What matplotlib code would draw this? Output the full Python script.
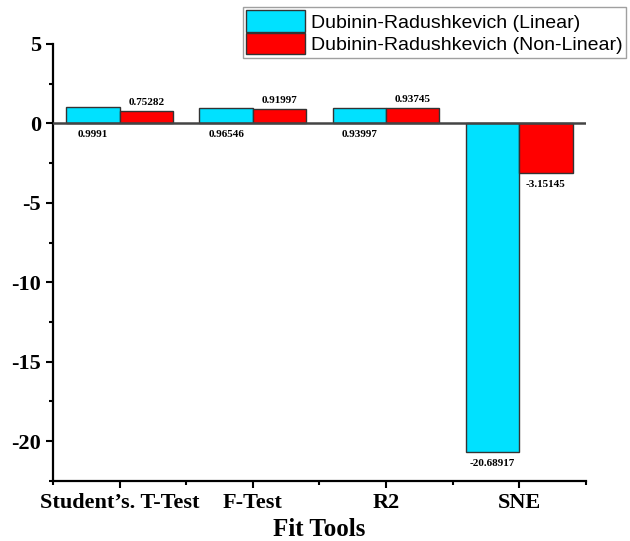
import numpy as np
import matplotlib.pyplot as plt
from matplotlib.ticker import MultipleLocator

plt.rcParams["axes.unicode_minus"] = False

# data
tools = ["Student\u2019s. T-Test", "F-Test", "R2", "SNE"]
linear = [0.9991, 0.96546, 0.93997, -20.68917]
nonlinear = [0.75282, 0.91997, 0.93745, -3.15145]
linear_lbl = ["0.9991", "0.96546", "0.93997", "-20.68917"]
nonlinear_lbl = ["0.75282", "0.91997", "0.93745", "-3.15145"]

serif = ["Liberation Serif", "DejaVu Serif"]
sans = ["Liberation Sans", "DejaVu Sans"]

fig = plt.figure(figsize=(6.30, 5.41), dpi=100)
ax = fig.add_axes([0.084, 0.111, 0.846, 0.808])

x = np.arange(len(tools))
w = 0.4
b1 = ax.bar(x - w / 2, linear, w, color="#00E1FF", edgecolor="#333333", linewidth=1.0,
            label="Dubinin-Radushkevich (Linear)", zorder=3)
b2 = ax.bar(x + w / 2, nonlinear, w, color="#FF0000", edgecolor="#333333", linewidth=1.0,
            label="Dubinin-Radushkevich (Non-Linear)", zorder=3)

ax.axhline(0, color="#444444", linewidth=1.8, zorder=4)

# value labels
for xi, v, t in zip(x, linear, linear_lbl):
    ax.annotate(t, (xi - w / 2, min(v, 0)), xytext=(0, -5), textcoords="offset points",
                ha="center", va="top", fontsize=8, fontweight="bold", family=serif)
for xi, v, t in zip(x, nonlinear, nonlinear_lbl):
    if v >= 0:
        ax.annotate(t, (xi + w / 2, v), xytext=(0, 3), textcoords="offset points",
                    ha="center", va="bottom", fontsize=8, fontweight="bold", family=serif)
    else:
        ax.annotate(t, (xi + w / 2, v), xytext=(0, -5), textcoords="offset points",
                    ha="center", va="top", fontsize=8, fontweight="bold", family=serif)

ax.set_xlim(-0.5, 3.5)
ax.set_ylim(-22.5, 5)
ax.set_xticks(x)
ax.set_xticklabels(tools, fontsize=16, fontweight="bold", family=serif)
ax.xaxis.set_minor_locator(MultipleLocator(1, offset=0.5))
ax.yaxis.set_major_locator(MultipleLocator(5))
ax.yaxis.set_minor_locator(MultipleLocator(2.5))
for lab in ax.get_yticklabels():
    lab.set_fontsize(16)
    lab.set_fontweight("bold")
    lab.set_family(serif)
ax.tick_params(axis="both", which="major", length=5, width=1.5, direction="out")
ax.tick_params(axis="both", which="minor", length=3, width=1.5, direction="out")

ax.spines["top"].set_visible(False)
ax.spines["right"].set_visible(False)
ax.spines["left"].set_linewidth(1.6)
ax.spines["bottom"].set_linewidth(1.6)

ax.set_xlabel("Fit Tools", fontsize=18, fontweight="bold", family=serif, labelpad=4)

leg = fig.legend(handles=[b1, b2], loc="upper right", bbox_to_anchor=(1.0, 0.995),
                 prop={"family": sans, "size": 14}, frameon=True, fancybox=False,
                 edgecolor="#888888", borderpad=0.2, handlelength=3.0, handleheight=1.3,
                 handletextpad=0.3, labelspacing=0.05, borderaxespad=0.2)
leg.get_frame().set_linewidth(1.0)

fig.savefig("out.png", dpi=100)
